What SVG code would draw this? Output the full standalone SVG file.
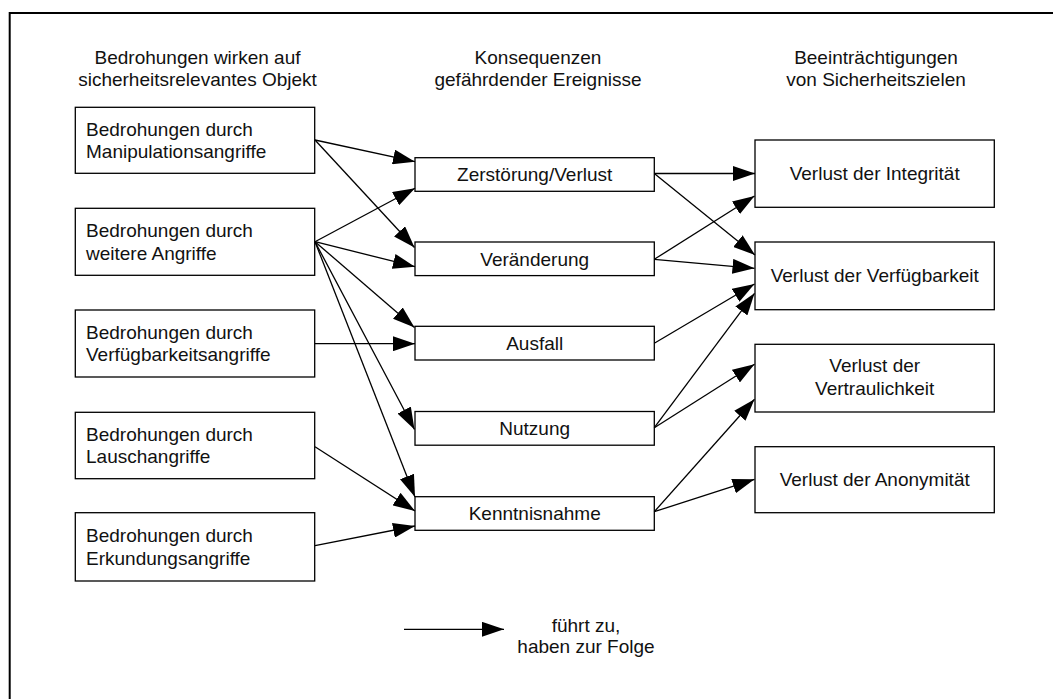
<svg xmlns="http://www.w3.org/2000/svg" width="1053" height="699" viewBox="0 0 1053 699">
  <style>
    .box { fill: #ffffff; stroke: #000000; stroke-width: 1.3; }
    .t { font-family: "Liberation Sans", Arial, sans-serif; font-size: 19px; fill: #111111; }
    .c { text-anchor: middle; }
    .edge { fill: none; stroke: #000000; stroke-width: 1.3; marker-end: url(#arrow); }
    .frame { fill: none; stroke: #000000; stroke-width: 2; }
  </style>
  <defs>
    <marker id="arrow" markerUnits="userSpaceOnUse" markerWidth="22" markerHeight="15" refX="22" refY="7.5" orient="auto">
      <path d="M0,0 L22,7.5 L0,15 Z" fill="#000000"/>
    </marker>
  </defs>

  <rect width="1053" height="699" fill="#ffffff"/>

  <!-- open frame: top and left edges -->
  <path class="frame" d="M1053,13 L9.7,13 L9.7,699"/>

  <!-- column headings -->
  <g id="headings">
    <text class="t c" x="197.5" y="64">Bedrohungen wirken auf</text>
    <text class="t c" x="197.5" y="86">sicherheitsrelevantes Objekt</text>
    <text class="t c" x="538" y="64">Konsequenzen</text>
    <text class="t c" x="538" y="86">gefährdender Ereignisse</text>
    <text class="t c" x="876" y="64">Beeinträchtigungen</text>
    <text class="t c" x="876" y="86">von Sicherheitszielen</text>
  </g>

  <!-- threats -->
  <g id="threat-manipulation">
    <rect class="box" x="75.3" y="107.3" width="239.4" height="66"/>
    <text class="t" x="86" y="135.5">Bedrohungen durch</text>
    <text class="t" x="86" y="158">Manipulationsangriffe</text>
  </g>
  <g id="threat-further">
    <rect class="box" x="75.3" y="208.3" width="239.4" height="67"/>
    <text class="t" x="86" y="237">Bedrohungen durch</text>
    <text class="t" x="86" y="259.5">weitere Angriffe</text>
  </g>
  <g id="threat-availability">
    <rect class="box" x="75.3" y="310" width="239.4" height="67"/>
    <text class="t" x="86" y="338.5">Bedrohungen durch</text>
    <text class="t" x="86" y="361">Verfügbarkeitsangriffe</text>
  </g>
  <g id="threat-eavesdropping">
    <rect class="box" x="75.3" y="412.3" width="239.4" height="66.4"/>
    <text class="t" x="86" y="440.5">Bedrohungen durch</text>
    <text class="t" x="86" y="463">Lauschangriffe</text>
  </g>
  <g id="threat-reconnaissance">
    <rect class="box" x="75.3" y="512.7" width="239.4" height="68.3"/>
    <text class="t" x="86" y="542">Bedrohungen durch</text>
    <text class="t" x="86" y="564.5">Erkundungsangriffe</text>
  </g>

  <!-- consequences -->
  <g id="cons-destruction">
    <rect class="box" x="415" y="157.7" width="239.3" height="33.6"/>
    <text class="t c" x="534.7" y="181">Zerstörung/Verlust</text>
  </g>
  <g id="cons-modification">
    <rect class="box" x="415" y="242" width="239.3" height="33.6"/>
    <text class="t c" x="534.7" y="265.5">Veränderung</text>
  </g>
  <g id="cons-outage">
    <rect class="box" x="415" y="326.3" width="239.3" height="33.7"/>
    <text class="t c" x="534.7" y="349.5">Ausfall</text>
  </g>
  <g id="cons-usage">
    <rect class="box" x="415" y="411.5" width="239.3" height="33.7"/>
    <text class="t c" x="534.7" y="434.5">Nutzung</text>
  </g>
  <g id="cons-disclosure">
    <rect class="box" x="415" y="496.7" width="239.3" height="33.6"/>
    <text class="t c" x="534.7" y="520">Kenntnisnahme</text>
  </g>

  <!-- security goals -->
  <g id="goal-integrity">
    <rect class="box" x="755" y="140" width="239.3" height="67.3"/>
    <text class="t c" x="874.7" y="180">Verlust der Integrität</text>
  </g>
  <g id="goal-availability">
    <rect class="box" x="755" y="242" width="239.3" height="67.7"/>
    <text class="t c" x="874.7" y="282">Verlust der Verfügbarkeit</text>
  </g>
  <g id="goal-confidentiality">
    <rect class="box" x="755" y="344.3" width="239.3" height="67.7"/>
    <text class="t c" x="874.7" y="372">Verlust der</text>
    <text class="t c" x="874.7" y="394.5">Vertraulichkeit</text>
  </g>
  <g id="goal-anonymity">
    <rect class="box" x="755" y="446.7" width="239.3" height="66"/>
    <text class="t c" x="874.7" y="485.5">Verlust der Anonymität</text>
  </g>

  <!-- connectors -->
  <g id="connectors">
    <line class="edge" x1="315" y1="140" x2="415" y2="161.7"/>
    <line class="edge" x1="315" y1="140" x2="414.5" y2="247.5"/>
    <line class="edge" x1="315" y1="241.7" x2="415" y2="188.3"/>
    <line class="edge" x1="315" y1="241.7" x2="415" y2="266.7"/>
    <line class="edge" x1="315" y1="241.7" x2="414.5" y2="327.5"/>
    <line class="edge" x1="315" y1="241.7" x2="414.5" y2="429.5"/>
    <line class="edge" x1="315" y1="241.7" x2="415" y2="497"/>
    <line class="edge" x1="315" y1="343.7" x2="415" y2="343.7"/>
    <line class="edge" x1="315" y1="446.7" x2="415" y2="511"/>
    <line class="edge" x1="315" y1="545.7" x2="415" y2="526"/>

    <line class="edge" x1="654.3" y1="173.5" x2="755" y2="173.5"/>
    <line class="edge" x1="654.3" y1="173.5" x2="755" y2="255"/>
    <line class="edge" x1="654.3" y1="259.3" x2="754.5" y2="196"/>
    <line class="edge" x1="654.3" y1="259.3" x2="754.5" y2="268.3"/>
    <line class="edge" x1="654.3" y1="343.3" x2="754.5" y2="284"/>
    <line class="edge" x1="654.3" y1="427.7" x2="754.5" y2="293.3"/>
    <line class="edge" x1="654.3" y1="427.7" x2="754.5" y2="364.3"/>
    <line class="edge" x1="654.3" y1="511.7" x2="754.5" y2="399.3"/>
    <line class="edge" x1="654.3" y1="511.7" x2="754.5" y2="479.3"/>
  </g>

  <!-- legend -->
  <g id="legend">
    <line class="edge" x1="404" y1="629.3" x2="504" y2="629.3"/>
    <text class="t c" x="586" y="632">führt zu,</text>
    <text class="t c" x="586" y="653">haben zur Folge</text>
  </g>
</svg>
